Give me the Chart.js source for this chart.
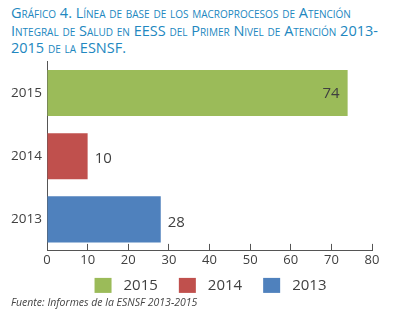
<!DOCTYPE html>
<html>
<head>
<meta charset="utf-8">
<script src="https://cdn.jsdelivr.net/npm/chart.js@4"></script>
<style>
  body { margin: 0; width: 402px; height: 318px; background: #fff; position: relative; overflow: hidden; font-family: "Open Sans", sans-serif; }
  #title { position: absolute; left: 11px; top: 4px; width: 391px; color: #2187c0; font-size: 14.5px; line-height: 17.5px; font-variant: small-caps; white-space: nowrap; }
  #wrap { position: absolute; left: 0; top: 55px; width: 402px; height: 263px; }
  #source { position: absolute; left: 11px; top: 295px; font-size: 10.5px; font-style: italic; color: #444; }
</style>
</head>
<body>
<div id="title">Gráfico 4. Línea de base de los macroprocesos de Atención<br>Integral de Salud en EESS del Primer Nivel de Atención 2013-<br>2015 de la ESNSF.</div>
<div id="wrap"><canvas id="chart"></canvas></div>
<div id="source">Fuente: Informes de la ESNSF 2013-2015</div>
<script>
const years = ['2015', '2014', '2013'];
const values = [74, 10, 28];
const barColors = ['#9bbb59', '#c0504d', '#4f81bd'];
const xTicks = [0, 10, 20, 30, 40, 50, 60, 70, 80];

// value labels: inside the long bar, outside the short ones
const valueLabels = {
    id: 'valueLabels',
    afterDatasetsDraw(chart) {
        const ctx = chart.ctx;
        const meta = chart.getDatasetMeta(0);
        ctx.save();
        ctx.font = '15px "Open Sans"';
        ctx.fillStyle = '#404040';
        ctx.textBaseline = 'middle';
        meta.data.forEach((bar, i) => {
            const v = values[i];
            if (v > 50) {
                ctx.textAlign = 'right';
                ctx.fillText(v, bar.x - 8, bar.y + 1);
            } else {
                ctx.textAlign = 'left';
                ctx.fillText(v, bar.x + 7, bar.y + 3);
            }
        });
        ctx.restore();
    }
};

// legend row under the axis, centred on the plot area
const bottomLegend = {
    id: 'bottomLegend',
    afterDraw(chart) {
        const ctx = chart.ctx;
        const area = chart.chartArea;
        const box = 17, boxH = 15, gap = 12, spacing = 21;
        ctx.save();
        ctx.font = '15px "Open Sans"';
        const widths = years.map(y => ctx.measureText(y).width);
        const total = widths.reduce((s, w) => s + box + gap + w, 0) + spacing * (years.length - 1);
        let x = (area.left + area.right) / 2 + 1 - total / 2;
        const cy = area.bottom + 34.5;
        ctx.textBaseline = 'middle';
        ctx.textAlign = 'left';
        years.forEach((y, i) => {
            ctx.fillStyle = barColors[i];
            ctx.fillRect(x, cy - boxH / 2, box, boxH);
            ctx.fillStyle = '#404040';
            ctx.fillText(y, x + box + gap, cy + 0.5);
            x += box + gap + widths[i] + spacing;
        });
        ctx.restore();
    }
};

new Chart(document.getElementById('chart'), {
    type: 'bar',
    data: {
        labels: years,
        datasets: [{
            data: values,
            backgroundColor: barColors,
            barPercentage: 0.73,
            categoryPercentage: 1
        }]
    },
    options: {
        indexAxis: 'y',
        responsive: true,
        maintainAspectRatio: false,
        animation: false,
        layout: { padding: { top: 6.5, right: 30, left: 0, bottom: 40.5 } },
        scales: {
            x: {
                min: 0,
                max: 80,
                afterBuildTicks: (axis) => { axis.ticks = xTicks.map(v => ({ value: v })); },
                border: { color: '#555', width: 1 },
                grid: { drawOnChartArea: false, tickLength: -7, color: '#555' },
                ticks: { padding: 9, color: '#404040', font: { family: 'Open Sans', size: 13 } }
            },
            y: {
                afterFit: (axis) => {
                    axis.width = 47;
                    axis.paddingTop = 0;
                    axis.paddingBottom = 0;
                },
                border: { color: '#555', width: 1 },
                grid: { display: false, drawTicks: false },
                ticks: { padding: 5, color: '#404040', font: { family: 'Open Sans', size: 13.5 } }
            }
        },
        plugins: {
            legend: { display: false },
            tooltip: { enabled: false }
        }
    },
    plugins: [valueLabels, bottomLegend]
});
</script>
</body>
</html>
